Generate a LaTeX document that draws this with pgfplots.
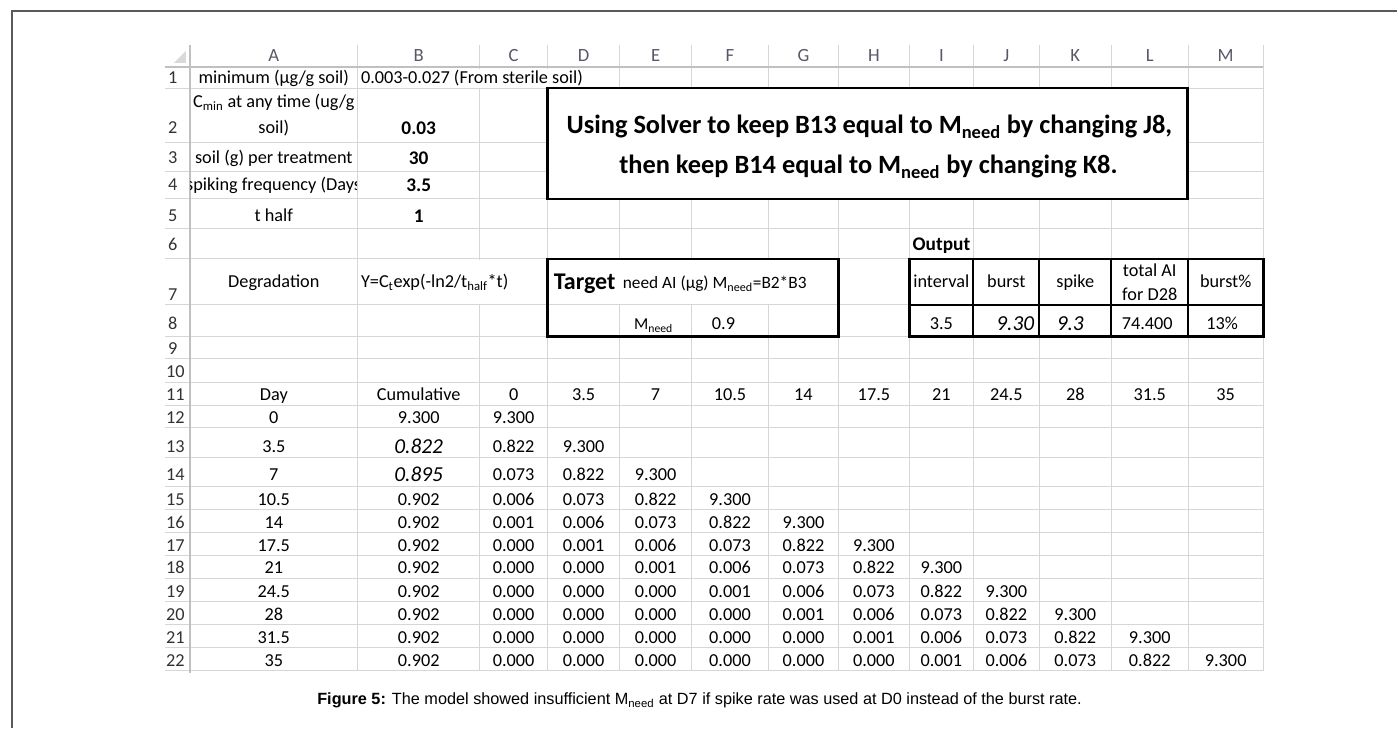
\documentclass[border=0pt]{standalone}
\usepackage{pgfplots}
\pgfplotsset{compat=1.18}
\usepackage{fontspec}
\setmainfont{Carlito}
\newfontfamily\arial{Liberation Sans}
\newcommand{\fs}[1]{\fontsize{#1pt}{#1pt}\selectfont}
\newcommand{\sub}[1]{\textsubscript{#1}}
\definecolor{gridc}{RGB}{214,214,214}
\definecolor{hdrc}{RGB}{192,192,192}
\definecolor{hdrtxt}{RGB}{88,88,104}
\definecolor{rowtxt}{RGB}{50,50,50}
\definecolor{framec}{RGB}{90,90,90}
\tikzset{
  c/.style={inner sep=0pt, anchor=base, font=\fs{13.7}, text=black},
  cw/.style={inner sep=0pt, anchor=base west, font=\fs{13.7}, text=black},
  hd/.style={inner sep=0pt, anchor=base, font=\fs{14}, text=hdrtxt},
  rn/.style={inner sep=0pt, anchor=base west, font=\fs{13.7}, text=rowtxt},
  bb/.style={inner sep=0pt, anchor=base, font=\fs{14.5}\bfseries, text=black},
  it/.style={inner sep=0pt, anchor=base, font=\fs{16}\itshape, text=black},
}
\pgfplotsset{
  cells/.style={draw=none, mark=none, nodes near coords, point meta=explicit symbolic,
    every node near coord/.append style={inner sep=0pt, anchor=base, font=\fs{#1}, text=black}},
}
\begin{document}
\begin{tikzpicture}
\begin{axis}[width=1048.5pt, height=546pt, scale only axis,
  xmin=0, xmax=1398, ymin=0, ymax=728, y dir=reverse,
  hide axis, clip=false]
\path[draw=none] (axis cs:0,0) rectangle (axis cs:1398,728);
% outer frame
\draw[framec, line width=1.4pt] (axis cs:12,728) -- (axis cs:12,11) -- (axis cs:1398,11);
% grid
\pgfplotsinvokeforeach{89,143,172,199,229,259,305,337,359,383,406,428,458,487,510,533,556,579,602,625,648,671}{
  \draw[gridc, line width=0.8pt] (axis cs:165,#1) -- (axis cs:1264,#1);}
\pgfplotsinvokeforeach{358,480,548,620,692,769,839,910,974,1040,1112,1189,1264}{
  \draw[gridc, line width=0.8pt] (axis cs:#1,45) -- (axis cs:#1,671);}
\draw[hdrc, line width=1.5pt] (axis cs:165,67) -- (axis cs:1264,67);
\draw[hdrc, line width=1.5pt] (axis cs:190,45) -- (axis cs:190,673);
\fill[gray!30] (axis cs:186,51) -- (axis cs:186,63) -- (axis cs:174,63) -- cycle;
% overflow patches
\fill[white] (axis cs:476,68.6) rectangle (axis cs:552,88.3);
\fill[white] (axis cs:476,259.7) rectangle (axis cs:484,304.4);
\fill[white] (axis cs:549,259.7) rectangle (axis cs:838,304.4);
% boxes
\draw[black, line width=2pt, fill=white] (axis cs:548,88) rectangle (axis cs:1188,199);
\draw[black, line width=2pt] (axis cs:548,259) rectangle (axis cs:839,337);
\draw[black, line width=2pt] (axis cs:910,259) rectangle (axis cs:1264,337);
\pgfplotsinvokeforeach{974,1040,1112,1189}{\draw[black, line width=1.6pt] (axis cs:#1,259) -- (axis cs:#1,337);}
\draw[black, line width=1.6pt] (axis cs:910,305) -- (axis cs:1264,305);

% column headers
\node[hd] at (axis cs:274,62) {A};
\node[hd] at (axis cs:419,62) {B};
\node[hd] at (axis cs:514,62) {C};
\node[hd] at (axis cs:584,62) {D};
\node[hd] at (axis cs:656,62) {E};
\node[hd] at (axis cs:730.5,62) {F};
\node[hd] at (axis cs:804,62) {G};
\node[hd] at (axis cs:874.5,62) {H};
\node[hd] at (axis cs:942,62) {I};
\node[hd] at (axis cs:1007,62) {J};
\node[hd] at (axis cs:1076,62) {K};
\node[hd] at (axis cs:1150.5,62) {L};
\node[hd] at (axis cs:1226.5,62) {M};
% row numbers
\node[rn] at (axis cs:168,84) {1};
\node[rn] at (axis cs:168,134) {2};
\node[rn] at (axis cs:168,164) {3};
\node[rn] at (axis cs:168,191) {4};
\node[rn] at (axis cs:168,222) {5};
\node[rn] at (axis cs:168,251) {6};
\node[rn] at (axis cs:168,301) {7};
\node[rn] at (axis cs:168,330) {8};
\node[rn] at (axis cs:168,355) {9};
\node[rn] at (axis cs:166,378) {10};
\node[rn] at (axis cs:166,401) {11};
\node[rn] at (axis cs:166,424) {12};
\node[rn] at (axis cs:166,453) {13};
\node[rn] at (axis cs:166,481) {14};
\node[rn] at (axis cs:166,506) {15};
\node[rn] at (axis cs:166,529) {16};
\node[rn] at (axis cs:166,552) {17};
\node[rn] at (axis cs:166,574) {18};
\node[rn] at (axis cs:166,598) {19};
\node[rn] at (axis cs:166,621) {20};
\node[rn] at (axis cs:166,644) {21};
\node[rn] at (axis cs:166,667) {22};

% parameter block
\node[c] at (axis cs:274,84) {minimum (µg/g soil)};
\node[cw] at (axis cs:361,84) {0.003-0.027 (From sterile soil)};
\node[c] at (axis cs:274,108) {C\sub{min} at any time (ug/g};
\node[c] at (axis cs:274,134) {soil)};
\node[c] at (axis cs:274,164) {soil (g) per treatment};
\begin{scope}
\clip (axis cs:191,173) rectangle (axis cs:357,198);
\node[cw] at (axis cs:186,191) {spiking frequency (Days)};
\end{scope}
\node[c] at (axis cs:274,222) {t half};
\node[bb] at (axis cs:419,135) {0.03};
\node[bb] at (axis cs:419,165) {30};
\node[bb] at (axis cs:419,192) {3.5};
\node[bb] at (axis cs:419,223) {1};

% text box
\node[inner sep=0pt, anchor=base, font=\fs{19.8}\bfseries] at (axis cs:870,134) {Using Solver to keep B13 equal to M\sub{need} by changing J8,};
\node[inner sep=0pt, anchor=base, font=\fs{19.8}\bfseries] at (axis cs:869,174) {then keep B14 equal to M\sub{need} by changing K8.};

% rows 6-8
\node[inner sep=0pt, anchor=base west, font=\fs{14.5}\bfseries] at (axis cs:913,251) {Output};
\node[c] at (axis cs:274,288) {Degradation};
\node[cw] at (axis cs:361,288) {Y=C\sub{t}exp(-ln2/t\sub{half}*t)};
\node[inner sep=0pt, anchor=base west, font=\fs{18}\bfseries] at (axis cs:554,290) {Target};
\node[inner sep=0pt, anchor=base west, font=\fs{13}] at (axis cs:623,289) {need AI (µg) M\sub{need}=B2*B3};
\node[c] at (axis cs:942,288) {interval};
\node[c] at (axis cs:1007,288) {burst};
\node[c] at (axis cs:1076,288) {spike};
\node[c] at (axis cs:1150.5,277) {total AI};
\node[c] at (axis cs:1150.5,301) {for D28};
\node[c] at (axis cs:1226.5,288) {burst\%};
\node[inner sep=0pt, anchor=base, font=\fs{12.5}] at (axis cs:654,330) {M\sub{need}};
\node[c] at (axis cs:724,330) {0.9};
\node[c] at (axis cs:942,330) {3.5};
\node[it] at (axis cs:1016,331) {9.30};
\node[it] at (axis cs:1071,331) {9.3};
\node[c] at (axis cs:1148,330) {74.400};
\node[c] at (axis cs:1223,330) {13\%};

% row 11 header
\node[c] at (axis cs:274,401) {Day};
\node[c] at (axis cs:419,401) {Cumulative};
\addplot[cells=13.7] table[meta=t] {
x y t
514 401 0
584 401 3.5
656 401 7
730.5 401 10.5
804 401 14
874.5 401 17.5
942 401 21
1007 401 24.5
1076 401 28
1150.5 401 31.5
1226.5 401 35
};
% day and cumulative columns
\addplot[cells=13.7] table[meta=t] {
x y t
274 424 0
274 453 3.5
274 481 7
274 506 10.5
274 529 14
274 552 17.5
274 574 21
274 598 24.5
274 621 28
274 644 31.5
274 667 35
419 424 9.300
419 506 0.902
419 529 0.902
419 552 0.902
419 574 0.902
419 598 0.902
419 621 0.902
419 644 0.902
419 667 0.902
};
\addplot[cells=16, every node near coord/.append style={font=\fs{16}\itshape}] table[meta=t] {
x y t
419 454 0.822
419 482 0.895
};
% degradation matrix
\addplot[cells=13.7] table[meta=t] {
x y t
514 424 9.300
514 453 0.822
584 453 9.300
514 481 0.073
584 481 0.822
656 481 9.300
514 506 0.006
584 506 0.073
656 506 0.822
730.5 506 9.300
514 529 0.001
584 529 0.006
656 529 0.073
730.5 529 0.822
804 529 9.300
514 552 0.000
584 552 0.001
656 552 0.006
730.5 552 0.073
804 552 0.822
874.5 552 9.300
514 574 0.000
584 574 0.000
656 574 0.001
730.5 574 0.006
804 574 0.073
874.5 574 0.822
942 574 9.300
514 598 0.000
584 598 0.000
656 598 0.000
730.5 598 0.001
804 598 0.006
874.5 598 0.073
942 598 0.822
1007 598 9.300
514 621 0.000
584 621 0.000
656 621 0.000
730.5 621 0.000
804 621 0.001
874.5 621 0.006
942 621 0.073
1007 621 0.822
1076 621 9.300
514 644 0.000
584 644 0.000
656 644 0.000
730.5 644 0.000
804 644 0.000
874.5 644 0.001
942 644 0.006
1007 644 0.073
1076 644 0.822
1150.5 644 9.300
514 667 0.000
584 667 0.000
656 667 0.000
730.5 667 0.000
804 667 0.000
874.5 667 0.000
942 667 0.001
1007 667 0.006
1076 667 0.073
1150.5 667 0.822
1226.5 667 9.300
};
% caption
\node[inner sep=0pt, anchor=base, font=\arial\fs{12.2}] at (axis cs:700,705) {\textbf{Figure 5:} The model showed insufficient M\textsubscript{need} at D7 if spike rate was used at D0 instead of the burst rate.};
\end{axis}
\end{tikzpicture}
\end{document}
